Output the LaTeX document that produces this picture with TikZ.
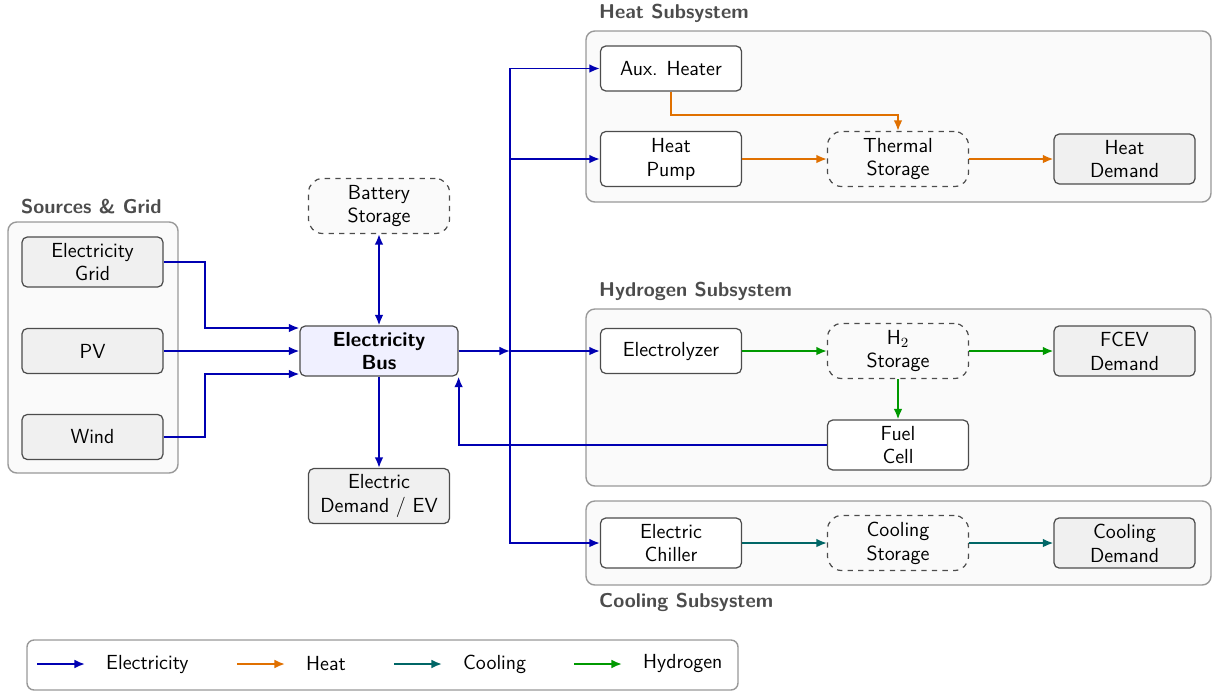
\documentclass[tikz,border=0pt]{standalone}
\usepackage{amsmath}
\usetikzlibrary{arrows.meta}
\tikzset{>={Latex[length=6pt,width=5pt]}}
\colorlet{elec}{blue!70!black}
\colorlet{heatc}{orange!88!black}
\colorlet{coolc}{teal!80!black}
\colorlet{hydc}{green!60!black}

\begin{document}
\begin{tikzpicture}[font=\sffamily\fontsize{11.6}{13.6}\selectfont,
    unit/.style={draw=black!70, rounded corners=3pt, fill=white, align=center,
                 minimum width=2.82cm, minimum height=0.9cm, line width=0.7pt},
    demand/.style={unit, fill=black!6},
    store/.style={unit, dashed, fill=black!2, rounded corners=8pt, minimum height=1.1cm},
    subsys/.style={draw=black!40, rounded corners=5pt, fill=black!2, line width=0.8pt},
    title/.style={anchor=west, font=\sffamily\bfseries\fontsize{11.4}{13}\selectfont, text=black!70},
    flow/.style={->, line width=1.1pt}]
  \useasboundingbox (0,0) rectangle (24.28,-13.82);
  % group frames
  \draw[subsys] (0.16,-4.44) rectangle (3.56,-9.46);
  \draw[subsys] (11.72,-0.62) rectangle (24.22,-4.04);
  \draw[subsys] (11.72,-6.18) rectangle (24.22,-9.72);
  \draw[subsys] (11.72,-10.02) rectangle (24.22,-11.70);
  \node[title] (tsrc)  at (0.30,-4.14)  {Sources \& Grid};
  \node[title] (theat) at (11.86,-0.26) {Heat Subsystem};
  \node[title] (thyd)  at (11.86,-5.82) {Hydrogen Subsystem};
  \node[title] (tcool) at (11.86,-12.04) {Cooling Subsystem};

  % sources
  \node[demand] (grid) at (1.85,-5.24) {Electricity\\Grid};
  \node[demand] (pv)   at (1.85,-7.02) {PV};
  \node[demand] (wind) at (1.85,-8.74) {Wind};

  % electricity bus
  \node[unit, fill=blue!6, minimum width=3.16cm, font=\sffamily\bfseries\fontsize{11.6}{13.6}\selectfont]
    (bus) at (7.58,-7.02) {Electricity\\Bus};
  \node[store] (bat) at (7.58,-4.12) {Battery\\Storage};
  \node[demand, minimum height=1.1cm] (edem) at (7.58,-9.92) {Electric\\Demand / EV};
  \coordinate (split) at (10.20,-7.02);

  % heat
  \node[unit] (aux) at (13.42,-1.37) {Aux. Heater};
  \node[unit, minimum height=1.1cm] (hp) at (13.42,-3.18) {Heat\\Pump};
  \node[store] (ts) at (17.96,-3.18) {Thermal\\Storage};
  \node[demand] (hdem) at (22.49,-3.18) {Heat\\Demand};

  % hydrogen
  \node[unit] (ely) at (13.42,-7.02) {Electrolyzer};
  \node[store] (h2s) at (17.96,-7.02) {H$_2$\\Storage};
  \node[demand] (fcev) at (22.49,-7.02) {FCEV\\Demand};
  \node[unit] (fc) at (17.96,-8.90) {Fuel\\Cell};

  % cooling
  \node[unit] (chil) at (13.42,-10.86) {Electric\\Chiller};
  \node[store] (cs) at (17.96,-10.86) {Cooling\\Storage};
  \node[demand] (cdem) at (22.49,-10.86) {Cooling\\Demand};

  % electricity flows
  \draw[flow, elec] (grid.east) -- ++(0.82,0) |- ([yshift=0.46cm]bus.west);
  \draw[flow, elec] (pv.east) -- (bus.west);
  \draw[flow, elec] (wind.east) -- ++(0.82,0) |- ([yshift=-0.46cm]bus.west);
  \draw[<->, line width=1.1pt, elec] (bus.north) -- (bat.south);
  \draw[flow, elec] (bus.south) -- (edem.north);
  \draw[flow, elec] (bus.east) -- (split);
  \draw[flow, elec] (split) |- (aux.west);
  \draw[flow, elec] (split) |- (hp.west);
  \draw[flow, elec] (split) -- (ely.west);
  \draw[flow, elec] (split) |- (chil.west);
  \draw[flow, elec] (fc.west) -| (bus.south east);

  % heat flows
  \draw[flow, heatc] (aux.south) -- ++(0,-0.46) -| (ts.north);
  \draw[flow, heatc] (hp.east) -- (ts.west);
  \draw[flow, heatc] (ts.east) -- (hdem.west);

  % hydrogen flows
  \draw[flow, hydc] (ely.east) -- (h2s.west);
  \draw[flow, hydc] (h2s.east) -- (fcev.west);
  \draw[flow, hydc] (h2s.south) -- (fc.north);

  % cooling flows
  \draw[flow, coolc] (chil.east) -- (cs.west);
  \draw[flow, coolc] (cs.east) -- (cdem.west);

  % legend
  \draw[draw=black!40, rounded corners=4pt, fill=white, line width=0.8pt] (0.54,-12.80) rectangle (14.76,-13.80);
  \coordinate (le1) at (0.74,-13.28);  \coordinate (le2) at (1.70,-13.28);
  \coordinate (lh1) at (4.74,-13.28);  \coordinate (lh2) at (5.70,-13.28);
  \coordinate (lc1) at (7.88,-13.28);  \coordinate (lc2) at (8.84,-13.28);
  \coordinate (ly1) at (11.48,-13.28); \coordinate (ly2) at (12.44,-13.28);
  \draw[flow, elec]  (le1) -- (le2);
  \draw[flow, heatc] (lh1) -- (lh2);
  \draw[flow, coolc] (lc1) -- (lc2);
  \draw[flow, hydc]  (ly1) -- (ly2);
  \node[anchor=west] (lel) at (2.00,-13.28)  {Electricity};
  \node[anchor=west] (lhl) at (6.00,-13.28)  {Heat};
  \node[anchor=west] (lcl) at (9.14,-13.28)  {Cooling};
  \node[anchor=west] (lyl) at (12.74,-13.28) {Hydrogen};
\end{tikzpicture}
\end{document}
